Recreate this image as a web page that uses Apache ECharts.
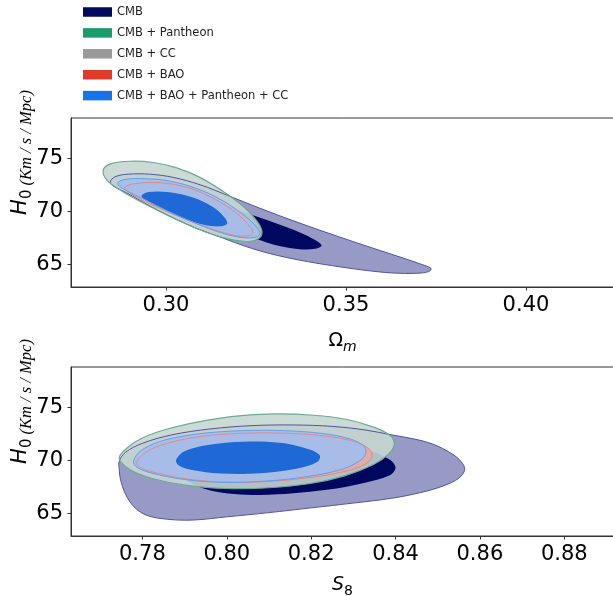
<!DOCTYPE html>
<html><head><meta charset="utf-8">
<script src="https://cdn.jsdelivr.net/npm/echarts@6/dist/echarts.min.js"></script>
<style>html,body{margin:0;padding:0;background:#fff}#c{width:613px;height:596px}</style>
</head><body><div id="c"></div>
<script>
// ---------- DATA ----------
const legendNames = ['CMB', 'CMB + Pantheon', 'CMB + CC', 'CMB + BAO', 'CMB + BAO + Pantheon + CC'];
const ticksOm = [0.30, 0.35, 0.40];
const ticksS8 = [0.78, 0.80, 0.82, 0.84, 0.86, 0.88];
const ticksH0 = [65, 70, 75];

// Panel 1: (Omega_m, H0) contour outlines
const cmbOuterOm = [[0.2845,72.75],[0.2858,73.25],[0.2895,73.5],[0.2955,73.5],[0.3020,73.2],[0.3095,72.5],[0.3175,71.45],[0.3260,70.3],[0.3350,69.15],[0.3450,67.95],[0.3550,66.8],[0.3640,65.8],[0.3705,65.05],[0.3736,64.62],[0.3730,64.32],[0.3695,64.15],[0.3630,64.18],[0.3550,64.45],[0.3460,64.88],[0.3370,65.4],[0.3290,66.0],[0.3220,66.7],[0.3160,67.45],[0.3095,68.25],[0.3025,69.3],[0.2950,70.6],[0.2890,71.75],[0.2855,72.35]];
const cmbInnerOm = [[0.3000,71.5],[0.3070,71.45],[0.3160,70.55],[0.3252,69.5],[0.3354,68.25],[0.3405,67.45],[0.3432,66.8],[0.3418,66.5],[0.3372,66.43],[0.3300,66.85],[0.3255,67.35],[0.3200,67.75],[0.3120,68.5],[0.3050,69.5],[0.2995,70.6]];
const pantheonOuterOm = [[0.2826,73.92],[0.2848,74.5],[0.2900,74.72],[0.2965,74.6],[0.3030,74.1],[0.3094,73.2],[0.3160,71.85],[0.3215,70.45],[0.3250,69.2],[0.3266,68.2],[0.3260,67.5],[0.3230,67.15],[0.3180,67.35],[0.3110,68.05],[0.3030,69.2],[0.2950,70.55],[0.2880,71.85],[0.2836,72.95]];
const ccOuterOm = [[0.2870,72.6],[0.2890,72.95],[0.2942,73.02],[0.3010,72.78],[0.3083,72.08],[0.3152,70.98],[0.3206,69.75],[0.3243,68.68],[0.3256,67.95],[0.3246,67.62],[0.3213,67.56],[0.3155,68.0],[0.3080,68.95],[0.3002,70.15],[0.2938,71.22],[0.2889,72.05]];
const baoOuterOm = [[0.2885,72.25],[0.2912,72.6],[0.2980,72.7],[0.3060,72.25],[0.3135,71.15],[0.3195,69.85],[0.3232,68.6],[0.3242,67.95],[0.3228,67.68],[0.3195,67.7],[0.3130,68.3],[0.3040,69.45],[0.2955,70.7],[0.2900,71.7]];
const combOuterOm = [[0.2865,72.62],[0.2885,73.0],[0.2940,73.08],[0.3010,72.85],[0.3085,72.15],[0.3155,71.05],[0.3210,69.8],[0.3247,68.7],[0.3261,67.95],[0.3250,67.58],[0.3215,67.5],[0.3155,67.95],[0.3080,68.9],[0.3000,70.1],[0.2935,71.2],[0.2885,72.05]];
const combInnerOm = [[0.2932,71.45],[0.2952,71.82],[0.3010,71.8],[0.3075,71.3],[0.3128,70.45],[0.3162,69.45],[0.3170,68.85],[0.3152,68.58],[0.3105,68.72],[0.3048,69.35],[0.2985,70.35],[0.2945,71.05]];

// Panel 2: (S8, H0) contour outlines
const cmbOuterS8 = [[0.7745,69.9],[0.7760,70.75],[0.7800,71.6],[0.7870,72.4],[0.7960,72.95],[0.8060,73.27],[0.8160,73.33],[0.8250,73.2],[0.8330,72.85],[0.8390,72.4],[0.8445,72.0],[0.8490,71.5],[0.8532,70.65],[0.8556,69.85],[0.8564,69.1],[0.8550,68.3],[0.8515,67.6],[0.8460,66.95],[0.8390,66.4],[0.8300,65.95],[0.8200,65.5],[0.8100,65.05],[0.8000,64.65],[0.7921,64.35],[0.7860,64.42],[0.7810,64.8],[0.7780,65.6],[0.7760,66.8],[0.7748,68.2],[0.7745,69.2]];
const cmbInnerS8 = [[0.7880,70.5],[0.7960,71.4],[0.8080,71.9],[0.8220,71.7],[0.8330,71.0],[0.8385,70.1],[0.8400,69.3],[0.8385,68.55],[0.8330,67.9],[0.8237,67.2],[0.8079,66.72],[0.7961,67.15],[0.7900,68.2],[0.7865,69.4]];
const pantheonOuterS8 = [[0.7745,70.2],[0.7765,71.2],[0.7800,72.1],[0.7855,72.9],[0.7930,73.6],[0.8016,74.15],[0.8111,74.38],[0.8206,74.25],[0.8285,73.85],[0.8350,73.1],[0.8388,72.3],[0.8397,71.5],[0.8384,70.6],[0.8348,69.6],[0.8277,68.5],[0.8198,67.8],[0.8100,67.4],[0.8000,67.33],[0.7905,67.62],[0.7826,68.25],[0.7771,69.1]];
const ccOuterS8 = [[0.7785,69.9],[0.7800,70.8],[0.7845,71.7],[0.7918,72.33],[0.8012,72.68],[0.8110,72.75],[0.8203,72.56],[0.8276,72.1],[0.8316,71.42],[0.8324,70.7],[0.8306,69.88],[0.8260,69.1],[0.8187,68.52],[0.8100,68.12],[0.8000,67.97],[0.7908,68.2],[0.7835,68.73],[0.7794,69.3]];
const baoOuterS8 = [[0.7786,69.75],[0.7808,70.75],[0.7858,71.6],[0.7940,72.25],[0.8040,72.55],[0.8140,72.55],[0.8230,72.3],[0.8300,71.8],[0.8338,71.05],[0.8344,70.3],[0.8325,69.55],[0.8275,68.9],[0.8195,68.35],[0.8100,68.0],[0.8000,67.93],[0.7910,68.2],[0.7838,68.75],[0.7798,69.25]];
const combOuterS8 = [[0.7779,69.9],[0.7795,70.85],[0.7840,71.75],[0.7915,72.4],[0.8010,72.75],[0.8110,72.82],[0.8205,72.62],[0.8280,72.15],[0.8322,71.45],[0.8330,70.7],[0.8312,69.85],[0.8265,69.05],[0.8190,68.45],[0.8100,68.05],[0.8000,67.9],[0.7905,68.15],[0.7830,68.7],[0.7788,69.3]];
const combInnerS8 = [[0.7880,70.05],[0.7900,70.85],[0.7955,71.45],[0.8040,71.75],[0.8125,71.65],[0.8185,71.15],[0.8220,70.5],[0.8215,69.85],[0.8165,69.2],[0.8080,68.78],[0.7985,68.75],[0.7915,69.1],[0.7885,69.55]];

// ---------- CHART ----------
const legendColors = ['#000a5e', '#1a9b6c', '#999999', '#e03a28', '#1673ea'];
const SMOOTH = 0.35;

function polySeries(name, pts, g, style, z) {
  return {
    type: 'custom', name: name, xAxisIndex: g, yAxisIndex: g, z: z,
    data: pts, silent: true, animation: false,
    renderItem: function (params, api) {
      if (params.dataIndex !== 0) return null;
      const p = pts.map(function (d) { return api.coord(d); });
      return { type: 'polygon', shape: { points: p, smooth: SMOOTH }, style: style };
    }
  };
}
function fillS(name, pts, g, color, z) { return polySeries(name, pts, g, { fill: color, stroke: null, lineWidth: 0 }, z); }
function lineS(name, pts, g, color, w, z) { return polySeries(name, pts, g, { fill: 'none', stroke: color, lineWidth: w }, z); }

function panelSeries(g, d) {
  return [
    fillS(legendNames[0], d.cmbO, g, '#979ac4', 1),
    fillS(legendNames[0], d.cmbI, g, '#00075e', 2),
    fillS(legendNames[1], d.panO, g, 'rgba(199,214,209,0.9)', 3),
    fillS(legendNames[2], d.ccO, g, 'rgba(196,206,203,0.9)', 4),
    fillS(legendNames[3], d.baoO, g, 'rgba(234,170,160,0.9)', 5),
    fillS(legendNames[4], d.combO, g, 'rgba(161,190,239,0.9)', 6),
    fillS(legendNames[4], d.combI, g, '#1e69d6', 7),
    lineS(legendNames[0], d.cmbO, g, '#50559f', 1, 8),
    lineS(legendNames[1], d.panO, g, '#68ad90', 1.2, 9),
    lineS(legendNames[3], d.baoO, g, '#e48888', 1, 10),
    lineS(legendNames[4], d.combO, g, '#5fa0f0', 1, 11)
  ];
}

const tickLabel = { fontFamily: 'DejaVu Sans', fontSize: 21, color: '#000' };
function yAxis(g) {
  return {
    type: 'value', gridIndex: g, min: g === 0 ? 62.86 : 62.84, max: g === 0 ? 78.80 : 78.81,
    axisLine: { show: true, lineStyle: { color: '#333', width: 1 } },
    axisTick: { show: true, length: 3.5, lineStyle: { color: '#333' }, customValues: ticksH0 },
    axisLabel: Object.assign({ margin: 8, customValues: ticksH0, formatter: function (v) { return String(Math.round(v)); } }, tickLabel),
    splitLine: { show: false },
    name: '{h|H}{s|0}{u| (Km / s / Mpc)}', nameLocation: 'middle', nameRotate: 90, nameGap: 36,
    nameMoveOverlap: false,
    nameTextStyle: {
      padding: [0, 0, 0, 100],
      rich: {
        h: { fontFamily: 'DejaVu Sans', fontStyle: 'italic', fontSize: 21, lineHeight: 28, color: '#000' },
        s: { fontFamily: 'DejaVu Sans', fontSize: 15, lineHeight: 16, verticalAlign: 'bottom', color: '#000' },
        u: { fontFamily: 'Liberation Serif', fontStyle: 'italic', fontSize: 16.5, lineHeight: 16, verticalAlign: 'bottom', color: '#000' }
      }
    }
  };
}
function xAxis(g, ticks, min, max, nameStr, gap, mainItalic, subItalic) {
  return {
    type: 'value', gridIndex: g, min: min, max: max,
    axisLine: { show: true, lineStyle: { color: '#333', width: 1 } },
    axisTick: { show: true, length: 3.5, lineStyle: { color: '#333' }, customValues: ticks },
    axisLabel: Object.assign({ margin: 8, customValues: ticks, formatter: function (v) { return v.toFixed(2); } }, tickLabel),
    splitLine: { show: false },
    name: nameStr, nameLocation: 'middle', nameGap: gap, nameMoveOverlap: false,
    nameTextStyle: {
      rich: {
        o: { fontFamily: 'DejaVu Sans', fontStyle: mainItalic ? 'italic' : 'normal', fontSize: 19, lineHeight: 26, color: '#000' },
        s: { fontFamily: 'DejaVu Sans', fontStyle: subItalic ? 'italic' : 'normal', fontSize: 14, lineHeight: 15, verticalAlign: 'bottom', color: '#000' }
      }
    }
  };
}

const option = {
  animation: false,
  backgroundColor: '#fff',
  legend: {
    orient: 'vertical', left: 83, top: 5, padding: 0, itemWidth: 29, itemHeight: 9.5, itemGap: 6.9,
    icon: 'rect', selectedMode: false,
    textStyle: { fontFamily: 'DejaVu Sans', fontSize: 11.5, color: '#222', lineHeight: 14 },
    data: legendNames.map(function (n, i) { return { name: n, icon: 'rect', itemStyle: { color: legendColors[i], borderWidth: 0 } }; })
  },
  grid: [
    { left: 71, top: 118, width: 543, height: 169, show: true, borderColor: '#333', borderWidth: 1, containLabel: false, outerBoundsMode: 'none' },
    { left: 71, top: 367, width: 543, height: 169, show: true, borderColor: '#333', borderWidth: 1, containLabel: false, outerBoundsMode: 'none' }
  ],
  xAxis: [
    xAxis(0, ticksOm, 0.273611, 0.424444, '{o|Ω}{s|m}', 41, false, true),
    xAxis(1, ticksS8, 0.76308, 0.89179, '{o|S}{s|8}', 36, true, false)
  ],
  yAxis: [yAxis(0), yAxis(1)],
  series: [].concat(
    panelSeries(0, { cmbO: cmbOuterOm, cmbI: cmbInnerOm, panO: pantheonOuterOm, ccO: ccOuterOm, baoO: baoOuterOm, combO: combOuterOm, combI: combInnerOm }),
    panelSeries(1, { cmbO: cmbOuterS8, cmbI: cmbInnerS8, panO: pantheonOuterS8, ccO: ccOuterS8, baoO: baoOuterS8, combO: combOuterS8, combI: combInnerS8 })
  )
};
const chart = echarts.init(document.getElementById('c'));
chart.setOption(option);
</script></body></html>
